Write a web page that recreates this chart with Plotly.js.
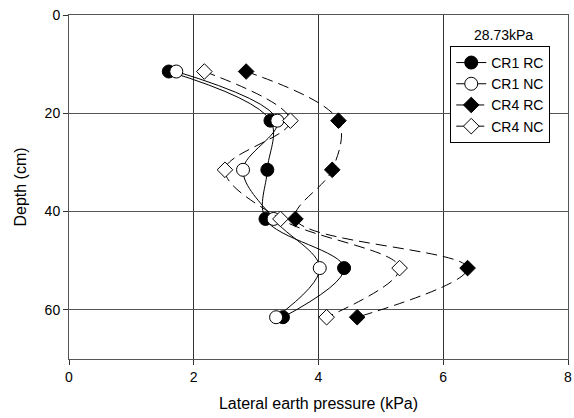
<!DOCTYPE html>
<html>
<head>
<meta charset="utf-8">
<script src="https://cdn.plot.ly/plotly-3.0.1.min.js"></script>
<style>
html,body{margin:0;padding:0;background:#fff;}
#chart{width:574px;height:418px;}
</style>
</head>
<body>
<div id="chart"></div>
<script>
const depth = [11.5, 21.5, 31.5, 41.5, 51.5, 61.5];
const cr1RC = [1.60, 3.23, 3.18, 3.15, 4.41, 3.43];
const cr1NC = [1.72, 3.34, 2.79, 3.28, 4.02, 3.32];
const cr4RC = [2.84, 4.32, 4.22, 3.63, 6.39, 4.62];
const cr4NC = [2.17, 3.55, 2.50, 3.39, 5.30, 4.13];
const seriesNames = ["CR1 RC", "CR1 NC", "CR4 RC", "CR4 NC"];
const xTicks = [0, 2, 4, 6, 8];
const yTicks = [0, 20, 40, 60];
const pressureLabel = "28.73kPa";

function tr(name, x, symbol, fill, dash, msize) {
  return {
    type: 'scatter', mode: 'lines+markers', name: name,
    x: x, y: depth,
    line: {color: '#000', width: 1, shape: 'spline', smoothing: 1, dash: dash},
    marker: {symbol: symbol, size: msize, color: fill, line: {color: '#000', width: 1}}
  };
}
const data = [
  tr(seriesNames[0], cr1RC, 'circle', '#000', 'solid', 13),
  tr(seriesNames[1], cr1NC, 'circle', '#fff', 'solid', 13),
  tr(seriesNames[2], cr4RC, 'diamond', '#000', '11px,6px', 12),
  tr(seriesNames[3], cr4NC, 'diamond', '#fff', '11px,6px', 12)
];
const fam = 'Liberation Sans, Arial, sans-serif';
const layout = {
  width: 574, height: 418,
  margin: {l: 69, r: 6, t: 15, b: 59},
  paper_bgcolor: '#fff', plot_bgcolor: '#fff',
  font: {family: fam, size: 14, color: '#000'},
  showlegend: true,
  legend: {x: 0.764, y: 0.91, xanchor: 'left', yanchor: 'top',
    bgcolor: '#fff', bordercolor: '#000', borderwidth: 1,
    font: {family: fam, size: 14, color: '#000'},
    tracegroupgap: 0},
  xaxis: {range: [0, 8], tickvals: xTicks, ticktext: xTicks.map(String),
    showgrid: true, gridcolor: '#333', gridwidth: 1,
    showline: true, linecolor: '#555', linewidth: 1, mirror: true,
    ticks: 'outside', ticklen: 5, tickcolor: '#333', zeroline: false,
    tickfont: {size: 14},
    title: {text: 'Lateral earth pressure (kPa)', font: {size: 16}, standoff: 14}},
  yaxis: {range: [70, 0], tickvals: yTicks, ticktext: yTicks.map(String),
    showgrid: true, gridcolor: '#555', gridwidth: 1,
    showline: true, linecolor: '#555', linewidth: 1, mirror: true,
    ticks: 'outside', ticklen: 5, tickcolor: '#333', zeroline: false,
    tickfont: {size: 14},
    title: {text: 'Depth (cm)', font: {size: 16}, standoff: 14}},
  annotations: [{text: pressureLabel, xref: 'paper', yref: 'paper',
    x: 0.870, y: 0.942, xanchor: 'center', yanchor: 'middle', showarrow: false,
    font: {size: 14}}]
};
Plotly.newPlot('chart', data, layout, {displayModeBar: false, staticPlot: true});
</script>
</body>
</html>
